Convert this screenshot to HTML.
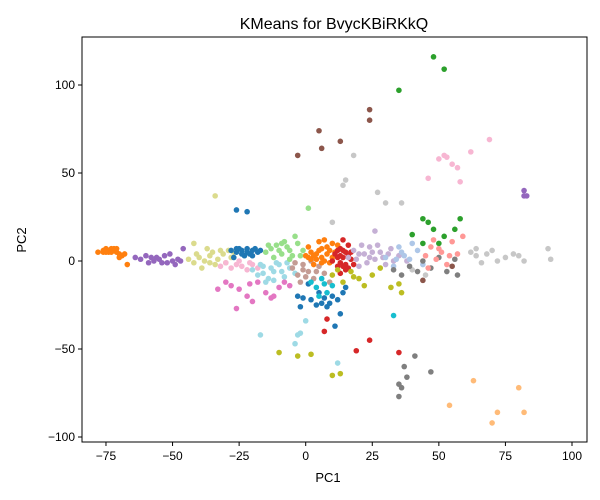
<!DOCTYPE html>
<html><head><meta charset="utf-8">
<style>
html,body{margin:0;padding:0;background:#fff;}
svg{display:block;font-family:"Liberation Sans",sans-serif;}
</style></head>
<body>
<svg id="chart" width="600" height="500">
<text x="334" y="29" font-size="16" text-anchor="middle">KMeans for BvycKBiRKkQ</text>
<g id="marks"></g>
<rect x="82" y="37" width="505" height="405" fill="none" stroke="#000" stroke-width="1"/>
<g id="xticks"></g>
<g id="yticks"></g>
<text x="328" y="482" font-size="13" text-anchor="middle">PC1</text>
<text x="26" y="240" font-size="13" text-anchor="middle" transform="rotate(-90 26 240)">PC2</text>
</svg>
<script>
const xTicks=[-75,-50,-25,0,25,50,75,100];
const yTicks=[-100,-50,0,50,100];
const clusterColors=["#ff7f0e","#9467bd","#dbdb8d","#f7b6d2","#1f77b4","#e377c2","#9edae5","#98df8a","#c49c94","#ff7f0e","#d62728","#17becf","#bcbd22","#c5b0d5","#c7c7c7","#aec7e8","#7f7f7f","#8c564b","#2ca02c","#ff9896","#f7b6d2","#c7c7c7","#ffbb78","#9467bd"];
const c0=[[-78,5],[-76,6],[-75,7],[-74,6],[-73,7],[-72,6],[-71,5],[-70,4],[-69,3],[-68,4],[-67,-2],[-74,5],[-76,5],[-72,7],[-70,2],[-73,5],[-71,7],[-75,5]];
const c1=[[-64,2],[-62,1],[-60,3],[-59,-1],[-57,0],[-55,1],[-53,3],[-52,-1],[-50,0],[-49,-2],[-48,1],[-47,0],[-46,7],[-58,2],[-51,4],[-54,-1],[-56,2]];
const c2=[[-44,1],[-42,-1],[-40,2],[-38,0],[-36,3],[-35,5],[-34,-2],[-33,1],[-31,4],[-30,-1],[-29,6],[-28,2],[-42,10],[-34,37],[-37,7],[-39,-4],[-41,4],[-36,-1],[-32,6],[-27,5]];
const c3=[[-32,-3],[-30,-1],[-28,-4],[-26,-2],[-24,-3],[-22,-5],[-20,-2],[-18,-4],[-25,0],[-21,-1]];
const c4=[[-28,6],[-26,5],[-25,7],[-24,6],[-22,5],[-21,4],[-20,6],[-19,7],[-18,5],[-23,3],[-27,2],[-24,4],[-22,7],[-20,3],[-17,6],[-26,7],[-26,29],[-22,28],[-3,-20],[-1,-21],[2,-22],[4,-25],[6,-24],[8,-26],[10,-20],[12,-22],[13,-30],[14,-18],[15,-15],[11,-37],[5,-18],[-2,-26],[1,-13],[9,-24],[7,-21]];
const c5=[[-30,-12],[-28,-14],[-25,-16],[-22,-20],[-20,-23],[-18,-12],[-15,-18],[-12,-20],[-26,-27],[-10,-15],[-33,-16],[-8,-12],[-6,-14],[-21,-13],[-13,-21]];
const c6=[[-20,-5],[-18,-8],[-16,-3],[-14,-10],[-12,-6],[-10,-2],[-8,-9],[-6,-4],[-4,-7],[-15,-12],[-11,-1],[-17,-2],[-13,-4],[-9,-6],[-7,-1],[-16,-7],[-12,-11],[-17,-42],[-3,-42],[-4,-47],[-2,-41],[12,-58],[0,-34]];
const c7=[[-15,5],[-13,7],[-11,9],[-9,4],[-7,8],[-5,3],[-3,10],[-1,6],[-12,2],[-8,11],[-4,14],[1,30],[-6,1],[-10,6],[-14,9],[-6,6],[-2,3],[-9,10]];
const c8=[[-5,-4],[-3,-8],[-1,-2],[1,-6],[3,-10],[5,-3],[7,-7],[9,-12],[-2,-12],[2,0],[-4,-1],[0,-9],[4,-6],[-1,-5]];
const c9=[[0,3],[2,5],[4,1],[6,7],[8,4],[10,2],[12,9],[3,-2],[5,11],[9,-1],[7,12],[1,8],[11,5],[2,1],[4,4],[6,2],[8,8],[5,6],[3,3],[7,0],[9,6],[1,2],[6,-1],[10,10]];
const c10=[[10,0],[11,4],[12,-3],[13,7],[14,2],[15,-5],[16,9],[17,1],[18,-2],[14,12],[13,-7],[15,5],[12,2],[13,-1],[14,6],[16,3],[15,-2],[17,5],[12,6],[16,-4],[14,-3],[13,3],[7,-40],[8,-33],[19,-51],[24,-45],[35,-52]];
const c11=[[2,-12],[4,-15],[6,-10],[8,-18],[10,-14],[5,-20],[7,-13],[33,-31]];
const c12=[[10,-8],[14,-12],[17,-6],[20,-10],[22,-14],[25,-8],[28,-4],[32,-15],[35,-13],[12,-5],[18,-9],[-10,-52],[-3,-54],[2,-53],[10,-65],[13,-64],[36,-18]];
const c13=[[16,2],[18,6],[20,-3],[22,4],[24,8],[26,1],[28,5],[30,-2],[32,7],[35,3],[38,0],[21,9],[26,17],[19,1],[23,-1],[25,5],[27,9],[29,2],[31,4],[20,4],[24,2],[33,0]];
const c14=[[15,46],[18,60],[14,43],[27,39],[30,33],[36,33],[10,22],[40,-5],[45,-8]];
const c15=[[30,2],[33,-3],[36,5],[39,1],[42,6],[44,-2],[35,8],[40,10],[37,3],[34,1]];
const c16=[[33,-5],[36,-8],[39,-3],[42,-6],[44,0],[47,-4],[50,2],[53,-6],[56,1],[57,-8],[37,-60],[36,-72],[41,-54],[35,-70],[35,-77],[38,-66],[47,-63]];
const c17=[[-3,60],[5,74],[6,64],[13,68],[24,86],[24,80],[44,-11],[55,-3]];
const c18=[[35,97],[48,116],[52,109],[44,10],[46,22],[48,18],[52,14],[56,18],[58,24],[44,24],[40,15],[50,10]];
const c19=[[45,3],[47,8],[49,1],[51,5],[53,-2],[55,11],[57,4],[59,14],[48,12],[46,-4],[50,7],[54,3]];
const c20=[[50,58],[53,59],[55,55],[57,53],[58,45],[62,62],[46,47],[69,69],[52,60]];
const c21=[[62,5],[64,3],[66,-1],[68,4],[70,6],[72,0],[75,2],[78,4],[80,3],[82,0],[91,7],[92,1],[64,7]];
const c22=[[63,-68],[70,-92],[72,-86],[80,-72],[82,-86],[54,-82]];
const c23=[[82,40],[82,37],[83,37]];
const clusters=[c0,c1,c2,c3,c4,c5,c6,c7,c8,c9,c10,c11,c12,c13,c14,c15,c16,c17,c18,c19,c20,c21,c22,c23];

const NS="http://www.w3.org/2000/svg";
function xs(v){return 305.7+v*2.663;}
function ys(v){return 261-v*1.76;}
const marks=document.getElementById('marks');
clusters.forEach((pts,ci)=>{
  pts.forEach(p=>{
    const c=document.createElementNS(NS,'circle');
    c.setAttribute('cx',xs(p[0]));c.setAttribute('cy',ys(p[1]));
    c.setAttribute('r',2.8);c.setAttribute('fill',clusterColors[ci]);
    
    
    marks.appendChild(c);
  });
});
const xg=document.getElementById('xticks');
xTicks.forEach(t=>{
  const l=document.createElementNS(NS,'line');
  l.setAttribute('x1',xs(t));l.setAttribute('x2',xs(t));l.setAttribute('y1',442);l.setAttribute('y2',446);l.setAttribute('stroke','#000');
  
  
  xg.appendChild(l);
  const tx=document.createElementNS(NS,'text');
  tx.setAttribute('x',xs(t));tx.setAttribute('y',460);tx.setAttribute('font-size','12');tx.setAttribute('text-anchor','middle');
  tx.textContent=(t<0?'\u2212'+(-t):t);
  
  
  xg.appendChild(tx);
});
const yg=document.getElementById('yticks');
yTicks.forEach(t=>{
  const l=document.createElementNS(NS,'line');
  l.setAttribute('x1',78);l.setAttribute('x2',82);l.setAttribute('y1',ys(t));l.setAttribute('y2',ys(t));l.setAttribute('stroke','#000');
  
  
  yg.appendChild(l);
  const tx=document.createElementNS(NS,'text');
  tx.setAttribute('x',75);tx.setAttribute('y',ys(t)+4);tx.setAttribute('font-size','12');tx.setAttribute('text-anchor','end');
  tx.textContent=(t<0?'\u2212'+(-t):t);
  
  
  yg.appendChild(tx);
});
</script>
</body></html>
